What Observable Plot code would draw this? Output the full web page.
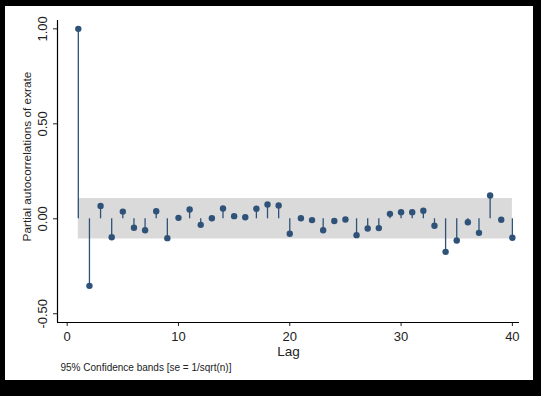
<!DOCTYPE html>
<html>
<head>
<meta charset="utf-8">
<script src="https://cdn.jsdelivr.net/npm/d3@7"></script>
<script src="https://cdn.jsdelivr.net/npm/@observablehq/plot@0.6"></script>
<style>
  html, body { margin: 0; padding: 0; background: #000; }
  #frame { width: 541px; height: 396px; box-sizing: border-box; background: #000;
           padding: 6px 8px 16px 5px; }
  #panel { width: 528px; height: 374px; background: #fff; position: relative; }
  svg { display: block; font-family: "Liberation Sans", Arial, sans-serif; }
</style>
</head>
<body>
<div id="frame"><div id="panel"></div></div>
<script>
const lags = d3.range(1, 41);
const pacf = [
  1.00, -0.353, 0.068, -0.097, 0.038, -0.047, -0.060, 0.040, -0.102, 0.005,
  0.049, -0.032, 0.003, 0.054, 0.014, 0.008, 0.053, 0.075, 0.070, -0.079,
  0.003, -0.007, -0.060, -0.012, -0.004, -0.086, -0.051, -0.049, 0.026, 0.035,
  0.035, 0.042, -0.037, -0.174, -0.114, -0.018, -0.074, 0.123, -0.005, -0.100
];
const bandHalf = 0.107;
const yTicks = [-0.5, 0, 0.5, 1];
const xTicks = [0, 10, 20, 30, 40];

const data = lags.map((l, i) => ({lag: l, v: pacf[i], lo: -bandHalf, hi: bandHalf}));
const navy = "#2f5279";

const chart = Plot.plot({
  width: 528,
  height: 374,
  marginLeft: 52,
  marginRight: 14,
  marginTop: 14,
  marginBottom: 58,
  style: {fontFamily: "'Liberation Sans', Arial, sans-serif", fontSize: "12px", color: "#222", background: "white"},
  x: {domain: [-0.87, 40.64]},
  y: {domain: [-0.546, 1.044]},
  marks: [
    Plot.areaY(data, {x: "lag", y1: "lo", y2: "hi", fill: "#dadada"}),
    Plot.ruleX(data, {x: "lag", y1: 0, y2: "v", stroke: navy, strokeWidth: 1.3}),
    Plot.dot(data, {x: "lag", y: "v", r: 3.2, fill: navy, stroke: "none"}),
    Plot.axisX({ticks: xTicks, tickSize: 4, tickPadding: 5, label: null, fontSize: 13, tickFormat: d => String(d)}),
    Plot.axisY({ticks: yTicks, tickSize: 4, tickPadding: 7, tickRotate: -90, label: null, fontSize: 13,
                tickFormat: d => d.toFixed(2)}),
    Plot.ruleY([-0.546], {stroke: "#000", strokeWidth: 1.2}),
    Plot.ruleX([-0.87], {stroke: "#000", strokeWidth: 1.2}),
    Plot.text(["Lag"], {frameAnchor: "bottom", lineAnchor: "middle", dy: 29, fontSize: 13.5, fill: "#222"}),
    Plot.text(["Partial autocorrelations of exrate"], {frameAnchor: "left", textAnchor: "middle", dx: -30, dy: -15, rotate: -90, fontSize: 11.8, fill: "#222"}),
    Plot.text(["95% Confidence bands [se = 1/sqrt(n)]"], {frameAnchor: "bottom-left", textAnchor: "start", lineAnchor: "middle", dx: 3, dy: 45, fontSize: 10, fill: "#222"})
  ]
});
document.getElementById("panel").appendChild(chart);
</script>
</body>
</html>
